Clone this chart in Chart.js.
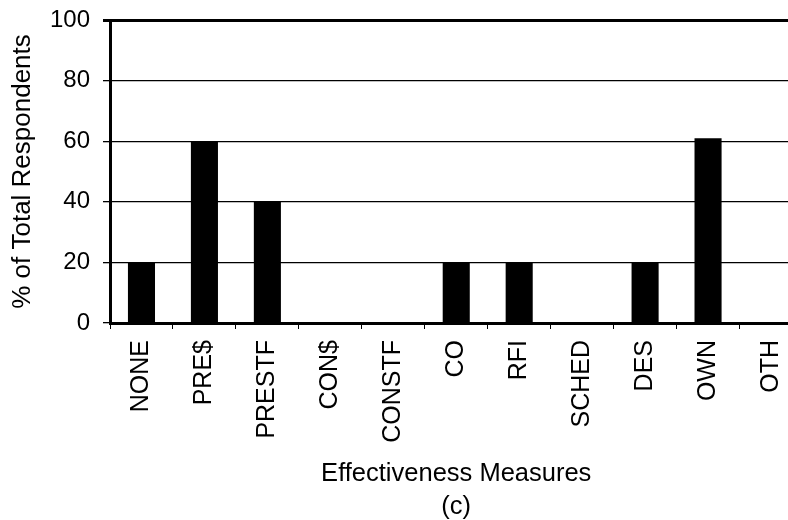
<!DOCTYPE html>
<html>
<head>
<meta charset="utf-8">
<script src="https://cdn.jsdelivr.net/npm/chart.js@4"></script>
<style>
  html, body { margin: 0; padding: 0; background: #fff; overflow: hidden; }
  #wrap { width: 812px; height: 523px; }
</style>
</head>
<body>
<div id="wrap"><canvas id="chart" width="812" height="523"></canvas></div>
<script>
const categories = ['NONE', 'PRE$', 'PRESTF', 'CON$', 'CONSTF', 'CO', 'RFI', 'SCHED', 'DES', 'OWN', 'OTH'];
const percentValues = [20, 60, 40, 0, 0, 20, 20, 0, 20, 61, 0];
const yTicks = [0, 20, 40, 60, 80, 100];

const font = 'Arial, "Liberation Sans", sans-serif';

// chart area edges in the picture
const plotLeft = 110;
const plotBottom = 323;
const canvasH = 523;

new Chart(document.getElementById('chart').getContext('2d'), {
  type: 'bar',
  data: {
    labels: categories,
    datasets: [{
      data: percentValues,
      backgroundColor: '#000',
      borderWidth: 0,
      categoryPercentage: 1,
      barPercentage: 0.43
    }]
  },
  options: {
    responsive: false,
    animation: false,
    layout: { padding: { top: 20, left: 0, right: 0, bottom: 0 } },
    plugins: { legend: { display: false }, tooltip: { enabled: false } },
    scales: {
      x: {
        offset: true,
        border: { display: true, color: '#000', width: 3 },
        grid: { display: true, drawOnChartArea: false, drawTicks: true, tickLength: 6, color: '#000', lineWidth: 1, offset: true },
        ticks: {
          color: '#000', font: { family: font, size: 25 },
          minRotation: 90, maxRotation: 90, autoSkip: false, padding: 11
        },
        title: {
          display: true,
          text: ['Effectiveness Measures', '(c)'],
          color: '#000',
          font: { family: font, size: 25.5, lineHeight: 1.28 },
          padding: { top: 0, bottom: 0 }
        },
        afterFit: (scale) => { scale.height = canvasH - plotBottom; }
      },
      y: {
        min: 0,
        max: 100,
        afterBuildTicks: (scale) => { scale.ticks = yTicks.map(v => ({ value: v })); },
        border: { display: true, color: '#000', width: 3 },
        grid: {
          color: '#000',
          lineWidth: (ctx) => (ctx.tick && ctx.tick.value === 100 ? 3 : 1.3),
          drawTicks: true,
          tickLength: 7
        },
        ticks: { color: '#000', font: { family: font, size: 24 }, padding: 13 },
        title: {
          display: true,
          text: '% of Total Respondents',
          color: '#000',
          font: { family: font, size: 26, lineHeight: 1.2 },
          padding: { top: 7, bottom: 0 }
        },
        afterFit: (scale) => {
          scale.width = plotLeft;
          scale.paddingTop = 0;
          scale.paddingBottom = 0;
        }
      }
    }
  }
});
</script>
</body>
</html>
